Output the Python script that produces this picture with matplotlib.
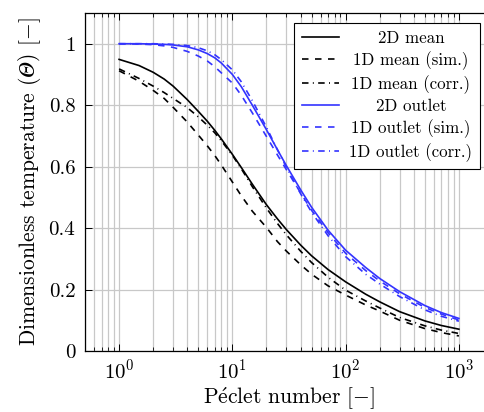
import numpy as np
import matplotlib
matplotlib.use("Agg")
import matplotlib.pyplot as plt
from matplotlib.ticker import LogLocator, FixedLocator, FuncFormatter, NullFormatter

plt.rcParams['font.family'] = 'serif'
plt.rcParams['font.serif'] = ['cmr10']
plt.rcParams['mathtext.fontset'] = 'cm'
plt.rcParams['axes.formatter.use_mathtext'] = True

# Peclet numbers where the curves were sampled
peclet = [1, 1.5, 2, 2.5, 3, 4, 5, 6, 7, 8, 10, 12, 15, 20, 25, 30, 40, 50, 70,
          100, 150, 200, 300, 500, 700, 1000]

mean_2d = [0.949, 0.929, 0.907, 0.885, 0.862, 0.818, 0.780, 0.748, 0.718, 0.690, 0.640,
           0.597, 0.543, 0.476, 0.430, 0.395, 0.345, 0.310, 0.265, 0.225, 0.185, 0.160,
           0.128, 0.098, 0.083, 0.071]
mean_1d_sim = [0.912, 0.878, 0.848, 0.822, 0.793, 0.745, 0.703, 0.668, 0.636, 0.605, 0.550,
               0.505, 0.455, 0.402, 0.356, 0.325, 0.281, 0.250, 0.212, 0.182, 0.150, 0.130,
               0.100, 0.073, 0.060, 0.049]
mean_1d_corr = [0.918, 0.887, 0.862, 0.841, 0.822, 0.792, 0.762, 0.735, 0.710, 0.684, 0.637,
                0.593, 0.535, 0.465, 0.415, 0.378, 0.325, 0.288, 0.240, 0.198, 0.163, 0.140,
                0.109, 0.082, 0.068, 0.057]

outlet_2d = [1.0, 1.0, 0.999, 0.998, 0.996, 0.990, 0.980, 0.968, 0.954, 0.937, 0.900,
             0.860, 0.800, 0.720, 0.655, 0.603, 0.525, 0.468, 0.393, 0.328, 0.272, 0.236,
             0.193, 0.148, 0.125, 0.106]
outlet_1d_sim = [1.0, 0.999, 0.997, 0.993, 0.988, 0.975, 0.960, 0.944, 0.925, 0.905, 0.872,
                 0.832, 0.775, 0.698, 0.638, 0.590, 0.515, 0.458, 0.385, 0.318, 0.262, 0.228,
                 0.186, 0.142, 0.120, 0.101]
outlet_1d_corr = [1.0, 1.0, 1.0, 0.999, 0.998, 0.994, 0.987, 0.977, 0.964, 0.948, 0.915,
                  0.876, 0.815, 0.728, 0.655, 0.598, 0.512, 0.452, 0.375, 0.307, 0.250, 0.218,
                  0.177, 0.134, 0.113, 0.097]

y_ticks = [0, 0.2, 0.4, 0.6, 0.8, 1]

blue = '#3333ff'
lw = 1.2
dashed = (0, (3.9, 3.9))
dashdot = (0, (3.9, 2.6, 0.6, 2.6))

fig = plt.figure(figsize=(4.84, 4.12), dpi=100)
ax = fig.add_axes([85 / 484, 1 - 351 / 412, 408 / 484, 338 / 412])

ax.plot(peclet, mean_2d, color='black', lw=lw, ls='-', label='2D mean')
ax.plot(peclet, mean_1d_sim, color='black', lw=lw, ls=dashed, label='1D mean (sim.)')
ax.plot(peclet, mean_1d_corr, color='black', lw=lw, ls=dashdot, label='1D mean (corr.)')
ax.plot(peclet, outlet_2d, color=blue, lw=lw, ls='-', label='2D outlet')
ax.plot(peclet, outlet_1d_sim, color=blue, lw=lw, ls=dashed, label='1D outlet (sim.)')
ax.plot(peclet, outlet_1d_corr, color=blue, lw=lw, ls=dashdot, label='1D outlet (corr.)')

ax.set_xscale('log')
ax.set_xlim(0.5, 2000)
ax.set_ylim(0, 1.1)

ax.xaxis.set_major_locator(LogLocator(base=10, numticks=10))
ax.xaxis.set_minor_locator(LogLocator(base=10, subs=np.arange(2, 10), numticks=20))
ax.xaxis.set_minor_formatter(NullFormatter())
ax.yaxis.set_major_locator(FixedLocator(y_ticks))
ax.yaxis.set_major_formatter(FuncFormatter(lambda v, p: '%g' % v))

ax.grid(True, which='major', color='#c8c8c8', lw=0.9)
ax.grid(True, which='minor', axis='x', color='#c8c8c8', lw=0.9)
ax.set_axisbelow(True)

ax.tick_params(which='both', direction='in', top=True, right=True, labelsize=15)
ax.tick_params(axis='x', pad=5.5)
ax.tick_params(axis='y', pad=7)
ax.tick_params(which='major', length=5, width=0.7)
ax.tick_params(which='minor', length=3, width=0.6)
for s in ax.spines.values():
    s.set_linewidth(0.9)

ax.set_xlabel(r'P$\acute{\mathrm{e}}$clet number $[-]$', fontsize=15.5, labelpad=2)
ax.set_ylabel('Dimensionless temperature $(𝛩)$ $[-]$', fontsize=15.5, labelpad=4)

leg = ax.legend(loc='upper right', bbox_to_anchor=(480 / 484, 1 - 23 / 412),
                bbox_transform=fig.transFigure, borderaxespad=0, fontsize=12.2,
                handlelength=2.2, labelspacing=0.3, handletextpad=0.6,
                fancybox=False, framealpha=1, edgecolor='black', borderpad=0.45)
leg.get_frame().set_linewidth(0.8)

# center the entries within the legend column
fig.canvas.draw()
renderer = fig.canvas.get_renderer()
widths = [t.get_window_extent(renderer).width for t in leg.get_texts()]
wmax = max(widths)
for t, w in zip(leg.get_texts(), widths):
    t.set_position(((wmax - w) / 2, 0))

fig.savefig('out.png', dpi=100)
